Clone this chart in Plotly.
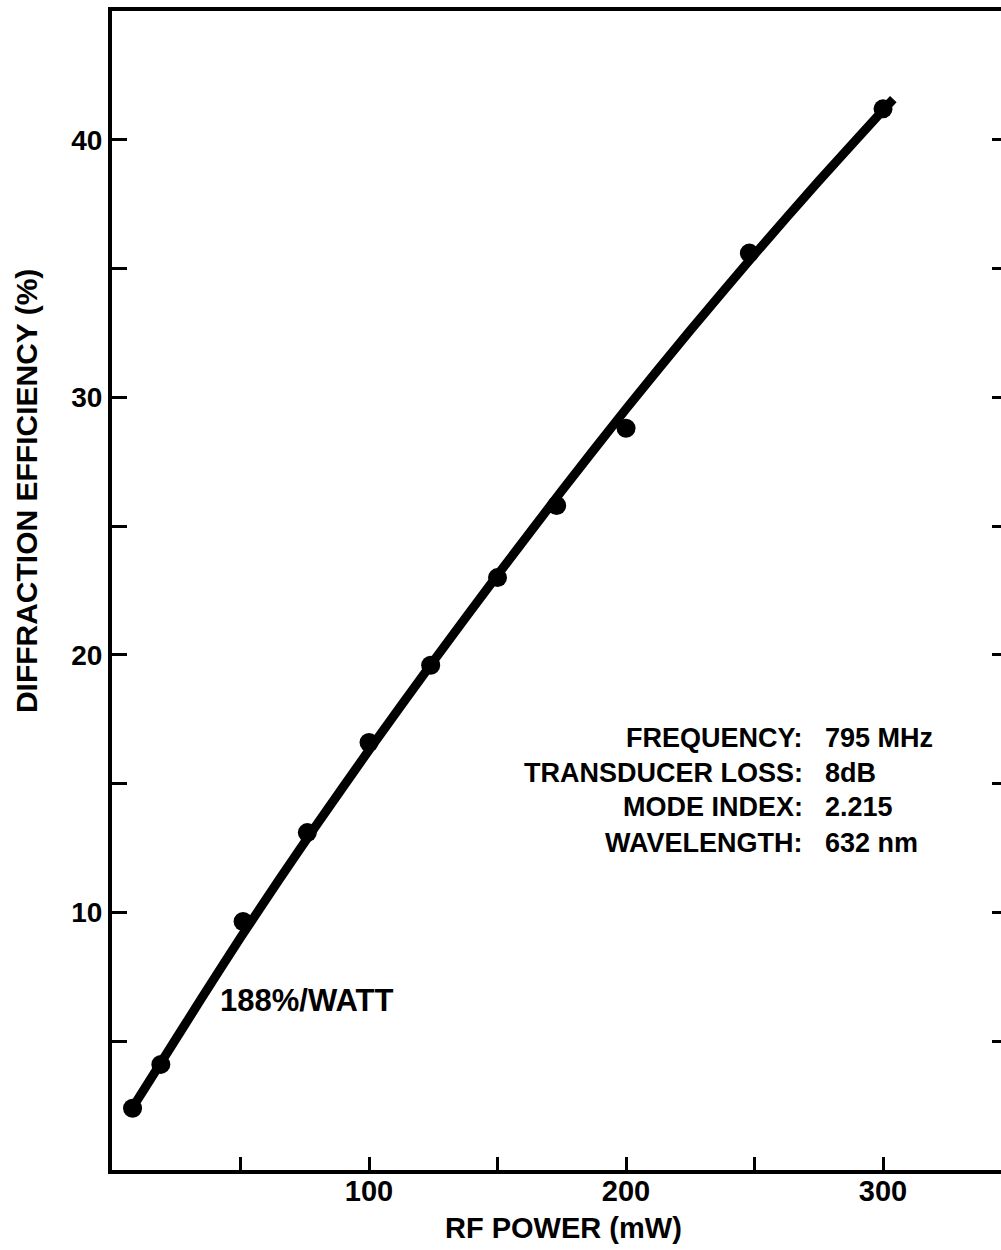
import plotly.graph_objects as go

# Measured points (RF power in mW, diffraction efficiency in %)
power_mw = [8, 19, 51, 76, 100, 124, 150, 173, 200, 248, 300]
efficiency_pct = [2.4, 4.1, 9.65, 13.1, 16.6, 19.6, 23.0, 25.8, 28.8, 35.6, 41.2]

# Hand-drawn fitted curve
fit_power_mw = [8, 20, 35, 50, 65, 80, 100, 125, 150, 175, 200, 225, 250, 275, 300, 304]
fit_efficiency_pct = [2.42, 4.32, 6.69, 9.02, 11.27, 13.46, 16.3, 19.75, 23.1, 26.37, 29.55, 32.6, 35.55, 38.4, 41.15, 41.58]

x_tick_vals = [50, 100, 150, 200, 250, 300]
x_tick_text = ["", "100", "", "200", "", "300"]
y_tick_vals = [5, 10, 15, 20, 25, 30, 35, 40]
y_tick_text = ["", "10", "", "20", "", "30", "", "40"]

param_labels = ["FREQUENCY:", "TRANSDUCER LOSS:", "MODE INDEX:", "WAVELENGTH:"]
param_values = ["795 MHz", "8dB", "2.215", "632 nm"]
param_rows_y = [16.79, 15.43, 14.08, 12.68]

slope_label = "188%/WATT"
x_title = "RF POWER (mW)"
y_title = "DIFFRACTION EFFICIENCY (%)"

FONT = "Liberation Sans, Arial, Helvetica, sans-serif"
X_RANGE = [0, 345.9]
Y_RANGE = [0, 45]

fig = go.Figure()
fig.add_trace(go.Scatter(
    x=fit_power_mw, y=fit_efficiency_pct, mode="lines",
    line=dict(color="black", width=9, shape="spline", smoothing=0.6),
    showlegend=False, hoverinfo="skip",
))
fig.add_trace(go.Scatter(
    x=power_mw, y=efficiency_pct, mode="markers",
    marker=dict(color="black", size=19),
    showlegend=False, yaxis="y2",
))

annotations = []
for lab, val, yy in zip(param_labels, param_values, param_rows_y):
    annotations.append(dict(x=269.6, y=yy, xref="x", yref="y", text=lab, showarrow=False,
                            xanchor="right", yanchor="middle",
                            font=dict(family=FONT, size=27, color="black", weight="bold")))
    annotations.append(dict(x=276.7, y=yy, xref="x", yref="y", text=val, showarrow=False,
                            xanchor="left", yanchor="middle",
                            font=dict(family=FONT, size=27, color="black", weight="bold")))
annotations.append(dict(x=41.2, y=6.57, xref="x", yref="y", text=slope_label, showarrow=False,
                        xanchor="left", yanchor="middle",
                        font=dict(family=FONT, size=31, color="black", weight="bold")))
annotations.append(dict(x=175.5, y=-0.0503, xref="x", yref="paper", text=x_title, showarrow=False,
                        xanchor="center", yanchor="middle",
                        font=dict(family=FONT, size=29, color="black", weight="bold")))
annotations.append(dict(x=-0.0967, y=26.36, xref="paper", yref="y", text=y_title, showarrow=False,
                        xanchor="center", yanchor="middle", textangle=-90,
                        font=dict(family=FONT, size=30, color="black", weight="bold")))

fig.update_layout(
    width=1001, height=1250,
    margin=dict(l=112, r=0, t=11, b=80, pad=0),
    paper_bgcolor="white", plot_bgcolor="white",
    xaxis=dict(range=X_RANGE, showgrid=False, zeroline=False,
               showline=True, linecolor="black", linewidth=4, mirror=True,
               ticks="inside", ticklen=13, tickwidth=3, tickcolor="black",
               tickvals=x_tick_vals, ticktext=x_tick_text, ticklabelstandoff=-8,
               tickfont=dict(family=FONT, size=29, color="black", weight="bold")),
    yaxis=dict(range=Y_RANGE, showgrid=False, zeroline=False,
               showline=True, linecolor="black", linewidth=4,
               ticks="inside", ticklen=15, tickwidth=3, tickcolor="black",
               tickvals=y_tick_vals, ticktext=y_tick_text,
               tickfont=dict(family=FONT, size=28, color="black", weight="bold")),
    yaxis2=dict(range=Y_RANGE, overlaying="y", side="right", showgrid=False, zeroline=False,
                showline=False, ticks="inside", ticklen=9, tickwidth=3, tickcolor="black",
                tickvals=y_tick_vals, showticklabels=False),
    annotations=annotations,
)

fig.write_html("out.html")
